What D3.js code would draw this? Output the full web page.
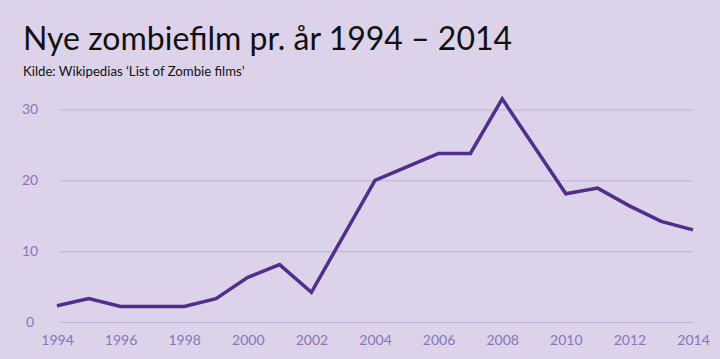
<!DOCTYPE html>
<html><head><meta charset="utf-8">
<script src="https://cdn.jsdelivr.net/npm/d3@7"></script>
<style>
html,body{margin:0;padding:0;background:#dcd3ea;}
svg{display:block;}
</style></head>
<body>
<script>
const title = "Nye zombiefilm pr. år 1994 – 2014";
const subtitle = "Kilde: Wikipedias ‘List of Zombie films’";
const years = [1994,1995,1996,1997,1998,1999,2000,2001,2002,2003,2004,2005,2006,2007,2008,2009,2010,2011,2012,2013,2014];
const films = [2.3,3.3,2.2,2.2,2.2,3.3,6.3,8.1,4.2,12.1,20,21.9,23.8,23.8,31.5,24.8,18.1,18.9,16.4,14.2,13.0];
const yTicks = [0,10,20,30];
const xTicks = [1994,1996,1998,2000,2002,2004,2006,2008,2010,2012,2014];

const W=720,H=359;
const svg=d3.select("body").append("svg").attr("width",W).attr("height",H);
svg.append("rect").attr("width",W).attr("height",H).attr("fill","#dcd3ea");

const x=d3.scaleLinear().domain([1994,2014]).range([57,693]);
const y=d3.scaleLinear().domain([0,30]).range([322,109.5]);

svg.append("text").attr("x",23).attr("y",50).text(title)
  .attr("font-family","Lato, 'Open Sans', sans-serif").attr("font-size",32).attr("fill","#111");
svg.append("text").attr("x",23).attr("y",76).text(subtitle)
  .attr("font-family","Lato, 'Open Sans', sans-serif").attr("font-size",13.2).attr("fill","#111");

// gridlines
const yAxis=d3.axisLeft(y).tickValues(yTicks).tickSize(-(693-60)).tickPadding(22);
const gy=svg.append("g").attr("transform","translate(60,0)").call(yAxis);
gy.select(".domain").remove();
gy.selectAll(".tick line").attr("stroke","#bdb2d6").attr("stroke-width",1);
gy.selectAll(".tick text").attr("fill","#8576bb").attr("font-family","Lato, 'Open Sans', sans-serif").attr("font-size",14).attr("text-anchor","middle").attr("x",-30);

const xAxis=d3.axisBottom(x).tickValues(xTicks).tickFormat(d3.format("d")).tickSize(0).tickPadding(0);
const gx=svg.append("g").attr("transform","translate(0,335)").call(xAxis);
gx.select(".domain").remove();
gx.selectAll(".tick text").attr("fill","#8576bb").attr("font-family","Lato, 'Open Sans', sans-serif").attr("font-size",14);

const line=d3.line().x((d,i)=>x(years[i])).y(d=>y(d));
svg.append("path").datum(films).attr("d",line).attr("fill","none")
  .attr("stroke","#4e2f8e").attr("stroke-width",3.5).attr("stroke-linejoin","miter");
</script>
</body></html>
